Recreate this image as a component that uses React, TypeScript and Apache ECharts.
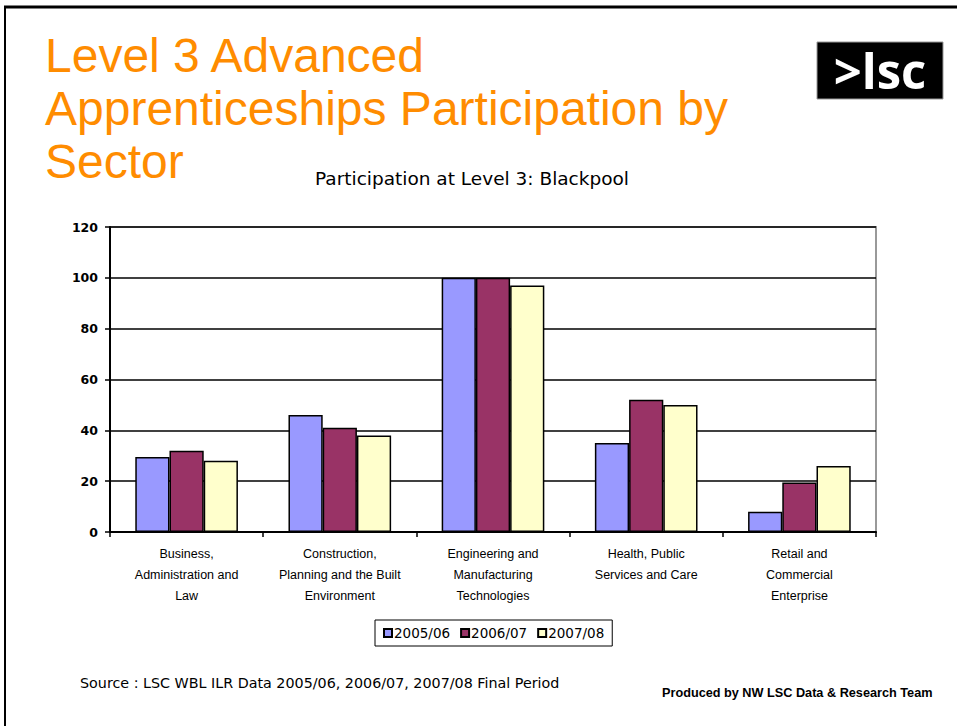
import React, { useEffect, useRef } from "react";
import * as echarts from "echarts";

const categories = [
  "Business,\nAdministration and\nLaw",
  "Construction,\nPlanning and the Built\nEnvironment",
  "Engineering and\nManufacturing\nTechnologies",
  "Health, Public\nServices and Care",
  "Retail and\nCommercial\nEnterprise",
];
const seriesNames = ["2005/06", "2006/07", "2007/08"];
const values2005 = [29.5, 46, 100, 35, 8];
const values2006 = [32, 41, 100, 52, 19.5];
const values2007 = [28, 38, 97, 50, 26];
const seriesColors = ["#9999FF", "#993366", "#FFFFCC"];
const titleLines = ["Level 3 Advanced", "Apprenticeships Participation by", "Sector"];
const subtitle = "Participation at Level 3: Blackpool";
const sourceText = "Source : LSC WBL ILR Data 2005/06, 2006/07, 2007/08 Final Period";
const producedText = "Produced by NW LSC Data & Research Team";

export default function App() {
  const ref = useRef<HTMLDivElement>(null);
  useEffect(() => {
    if (!ref.current) return;
    const chart = echarts.init(ref.current, null, { renderer: "svg" });
    const data = [values2005, values2006, values2007];
    const orange = "#FF8C00";
    chart.setOption({
      animation: false,
      backgroundColor: "#ffffff",
      graphic: [
        { type: "line", shape: { x1: 4, y1: 7, x2: 957, y2: 7 }, style: { stroke: "#000", lineWidth: 3 } },
        { type: "line", shape: { x1: 5, y1: 6, x2: 5, y2: 726 }, style: { stroke: "#000", lineWidth: 2 } },
        ...titleLines.map((t, i) => ({
          type: "text",
          x: 45,
          y: 55 + i * 53,
          style: {
            text: t,
            fill: orange,
            fontSize: 48,
            fontFamily: "Liberation Sans, Arial, sans-serif",
            verticalAlign: "middle",
            align: "left",
          },
        })),
        { type: "rect", shape: { x: 817, y: 42, width: 126, height: 57 }, style: { fill: "#000", stroke: "#999", lineWidth: 1 } },
        {
          type: "text",
          x: 880,
          y: 70,
          style: {
            text: ">lsc",
            fill: "#fff",
            fontSize: 49,
            fontWeight: "bold",
            fontFamily: "Open Sans, Liberation Sans, sans-serif",
            align: "center",
            verticalAlign: "middle",
          },
        },
        {
          type: "text",
          x: 472,
          y: 178,
          style: {
            text: subtitle,
            fill: "#000",
            fontSize: 18.5,
            fontFamily: "DejaVu Sans, sans-serif",
            align: "center",
            verticalAlign: "middle",
          },
        },
        {
          type: "text",
          x: 80,
          y: 683,
          style: {
            text: sourceText,
            fill: "#000",
            fontSize: 14.3,
            fontFamily: "DejaVu Sans, sans-serif",
            align: "left",
            verticalAlign: "middle",
          },
        },
        {
          type: "text",
          x: 662,
          y: 693,
          style: {
            text: producedText,
            fill: "#000",
            fontSize: 12.7,
            fontWeight: "bold",
            fontFamily: "Liberation Sans, Arial, sans-serif",
            align: "left",
            verticalAlign: "middle",
          },
        },
      ],
      legend: {
        data: seriesNames,
        left: 375,
        top: 620,
        orient: "horizontal",
        padding: [6, 8],
        borderColor: "#000",
        borderWidth: 1,
        itemWidth: 8,
        itemHeight: 8,
        itemGap: 10,
        icon: "rect",
        textStyle: { fontSize: 13.5, fontFamily: "DejaVu Sans, sans-serif", color: "#000", padding: [0, 0, 0, -3] },
      },
      grid: {
        left: 110,
        top: 227,
        width: 766,
        height: 305,
        show: true,
        borderColor: "#999",
        borderWidth: 2,
        backgroundColor: "transparent",
      },
      xAxis: {
        type: "category",
        data: categories,
        axisLine: { lineStyle: { color: "#000", width: 2 } },
        axisTick: { show: true, length: 5, lineStyle: { color: "#000", width: 1.5 } },
        axisLabel: {
          color: "#000",
          fontSize: 12.5,
          lineHeight: 21,
          margin: 11,
          fontFamily: "Liberation Sans, Arial, sans-serif",
          interval: 0,
        },
      },
      yAxis: {
        type: "value",
        min: 0,
        max: 120,
        interval: 20,
        axisLine: { show: true, lineStyle: { color: "#000", width: 2 } },
        axisTick: { show: true, length: 5, lineStyle: { color: "#000", width: 1.5 } },
        splitLine: { lineStyle: { color: "#000", width: 1.5 } },
        axisLabel: {
          color: "#000",
          fontSize: 12.5,
          fontWeight: "bold",
          fontFamily: "DejaVu Sans, sans-serif",
          margin: 12,
        },
      },
      series: seriesNames.map((name, i) => ({
        name,
        type: "bar",
        data: data[i],
        barGap: "0%",
        barCategoryGap: "33%",
        itemStyle: { color: seriesColors[i], borderColor: "#000", borderWidth: 1.5 },
      })),
    });
    return () => chart.dispose();
  }, []);
  return (
    <div
      ref={ref}
      style={{ position: "absolute", left: 0, top: 0, width: 957, height: 726, background: "#fff" }}
    />
  );
}
